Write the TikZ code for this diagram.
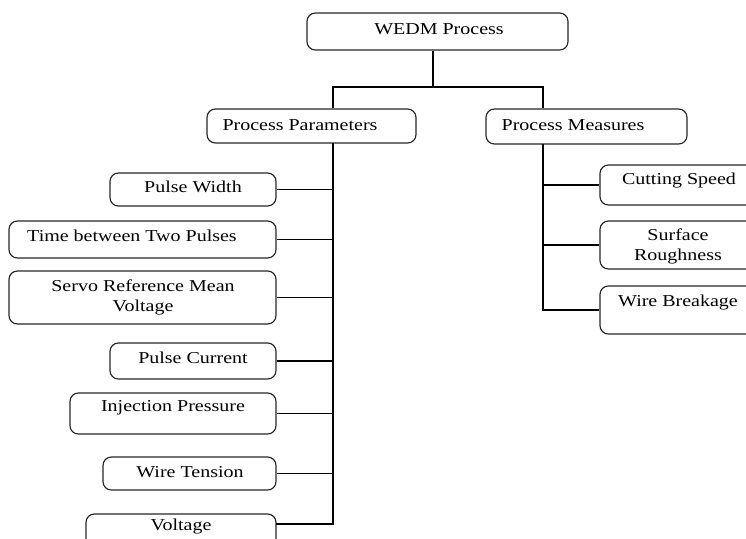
\documentclass[tikz,border=0pt]{standalone}
\usepackage{fontspec}
\setmainfont{Liberation Serif}[FakeStretch=1.2]
\usetikzlibrary{fit}
\tikzstyle{bx}=[draw=black!85,rounded corners=5pt,line width=0.7pt,inner sep=0pt]
\tikzstyle{lb}=[inner sep=0pt,align=center,font=\fontsize{10}{12}\selectfont]
\tikzstyle{ln}=[line width=0.7pt]

\begin{document}
\begin{tikzpicture}[x=0.6pt,y=-0.6pt]
\useasboundingbox (0,0) rectangle (746,538);
\clip (0,0) rectangle (746,538);
% boxes
\node[bx,fit={(307,13) (568,50)}] (wedm) {};
\node[bx,fit={(207,109) (416,143)}] (pp) {};
\node[bx,fit={(486,109) (687,144)}] (pm) {};
\node[bx,fit={(110,173) (276,206)}] (pw) {};
\node[bx,fit={(9,221) (276,258)}] (tp) {};
\node[bx,fit={(9,271) (276,324)}] (sv) {};
\node[bx,fit={(110,343) (276,379)}] (pc) {};
\node[bx,fit={(70,393) (276,434)}] (ip) {};
\node[bx,fit={(103,457) (276,490)}] (wt) {};
\node[bx,fit={(86,514) (276,560)}] (vo) {};
\node[bx,fit={(600,165) (770,205)}] (cs) {};
\node[bx,fit={(600,221) (770,269)}] (sr) {};
\node[bx,fit={(600,286) (770,334)}] (wb) {};
% texts
\node[lb] (twedm) at (439,29) {WEDM Process};
\node[lb] (tpp) at (300,125) {Process Parameters};
\node[lb] (tpm) at (573,125) {Process Measures};
\node[lb] (tpw) at (193,187) {Pulse Width};
\node[lb] (ttp) at (132,236) {Time between Two Pulses};
\node[lb] (tsv) at (143,297) {Servo Reference Mean\\Voltage};
\node[lb] (tpc) at (193,358) {Pulse Current};
\node[lb] (tip) at (173,408) {Injection Pressure};
\node[lb] (twt) at (190,472) {Wire Tension};
\node[lb] (tvo) at (181,527) {Voltage};
\node[lb] (tcs) at (679,181) {Cutting Speed};
\node[lb] (tsr) at (678,246) {Surface\\Roughness};
\node[lb] (twb) at (678,303) {Wire Breakage};
% connectors
\coordinate (jn) at (433,87);
\coordinate (ppx) at (333,143);
\coordinate (pmx) at (543,144);
\coordinate (voc) at (276,524);
\draw[ln] (wedm.south -| jn) -- (jn);
\draw[ln] (ppx |- pp.north) |- (jn) -| (pmx |- pm.north);
\draw[ln] (ppx) -- (ppx |- voc) -- (voc);
\foreach \b in {pw,tp,sv,pc,ip,wt} \draw[ln] (\b.east) -- (\b.east -| ppx);
\draw[ln] (pmx) -- (pmx |- wb.west) -- (wb.west);
\foreach \b in {cs,sr} \draw[ln] (\b.west) -- (\b.west -| pmx);
\end{tikzpicture}
\end{document}
